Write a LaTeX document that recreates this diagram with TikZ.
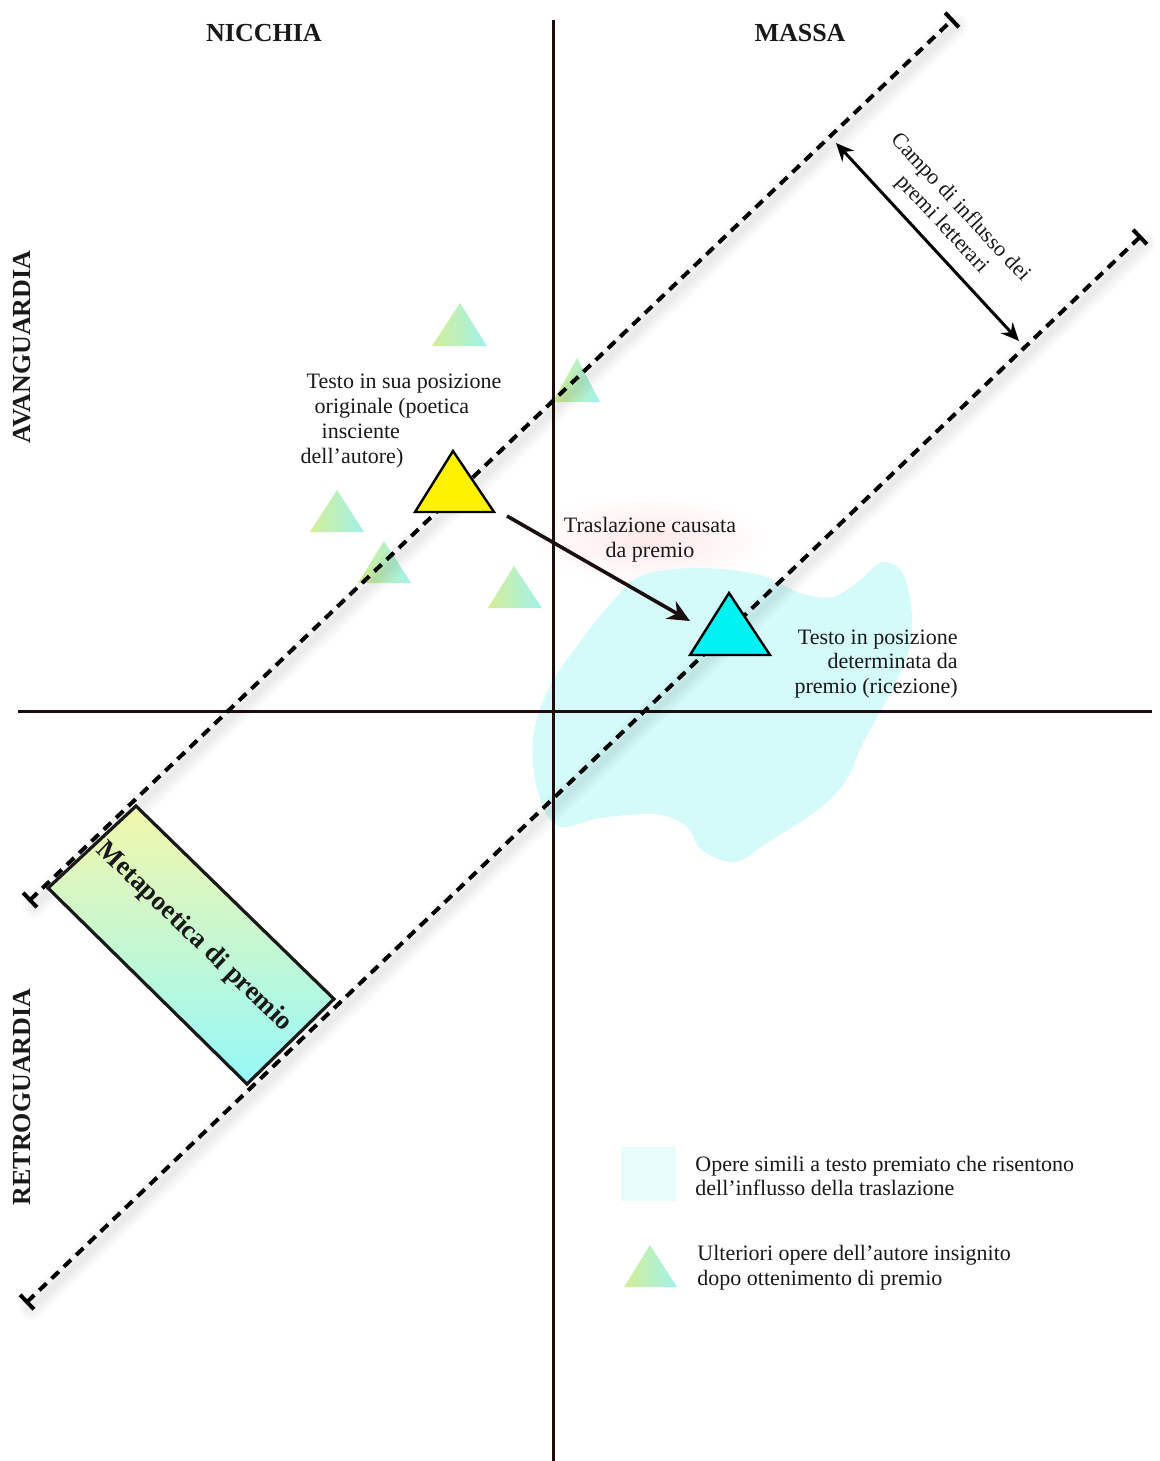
\documentclass[tikz,border=0pt]{standalone}
\usepackage{fontspec}
\setmainfont{Liberation Serif}
\usetikzlibrary{arrows.meta,calc}
\definecolor{axisc}{RGB}{28,14,14}
\definecolor{tleft}{RGB}{212,238,150}
\definecolor{tright}{RGB}{160,242,236}
\definecolor{blobc}{RGB}{212,250,250}
\definecolor{legc}{RGB}{232,252,252}
\definecolor{rtop}{RGB}{243,247,172}
\definecolor{rbot}{RGB}{150,248,248}
\definecolor{cyantri}{RGB}{0,242,242}
\definecolor{yellowtri}{RGB}{255,242,0}
\begin{document}
\begin{tikzpicture}[x=0.5pt,y=-0.5pt,
  axis/.style={line width=1.5pt, draw=axisc},
  dashline/.style={line width=2pt, dash pattern=on 5pt off 3.5pt, draw=black},
  glowline/.style={draw=black, draw opacity=0.018, line cap=round},
  endbar/.style={line width=2pt, draw=black},
  fadetri/.style={left color=tleft, right color=tright, draw=none},
  maintri/.style={line width=1.2pt, draw=black, line join=miter},
  arr/.style={line width=1.8pt, draw=axisc, -{Stealth[length=11pt,width=10pt,inset=3.5pt]}},
  darr/.style={line width=1.5pt, draw=black, {Stealth[length=9pt,width=8pt,inset=3pt]}-{Stealth[length=9pt,width=8pt,inset=3pt]}},
  lbl/.style={inner sep=0pt, font=\fontsize{11}{12.4}\selectfont, text=black!90},
  head/.style={inner sep=0pt, font=\fontsize{13}{15}\selectfont\bfseries, text=black!90}
]
\useasboundingbox (0,0) rectangle (1160,1461);
\fill[white] (0,0) rectangle (1160,1461);

% pink glow behind translation label
\shade[inner color=red!9, outer color=white] (650,540) ellipse [x radius=120, y radius=45];

% blob of similar works
\fill[blobc] plot[smooth cycle, tension=0.6] coordinates {
  (643,575) (700,568) (760,575) (800,593) (833,597) (860,580) (883,562)
  (905,578) (912,635) (898,678) (880,712) (862,745) (845,782) (815,812)
  (768,842) (735,862) (702,850) (686,826) (655,814) (600,818) (558,826)
  (538,792) (533,740) (548,690) (580,642) (614,600)};

% faded triangles (further works)
\shade[fadetri] (432,346) -- (460,303) -- (487,346) -- cycle;
\shade[fadetri] (553,402) -- (577,358) -- (600,402) -- cycle;
\shade[fadetri] (310,532) -- (337,490) -- (364,532) -- cycle;
\shade[fadetri] (358,583) -- (384,541) -- (411,583) -- cycle;
\shade[fadetri] (488,608) -- (514,566) -- (542,608) -- cycle;

% axes
\coordinate (vtop) at (553,20);
\coordinate (vbot) at (553,1461);
\coordinate (hleft) at (18,711);
\coordinate (hright) at (1152,711);
\draw[axis] (vtop) -- (vbot);
\draw[axis] (hleft) -- (hright);

% dashed boundary lines of the field of influence
\coordinate (u1) at (30,900);
\coordinate (u2) at (952,20);
\coordinate (l1) at (27,1302);
\coordinate (l2) at (1140,237);
\foreach \w in {3pt,6pt,9pt,12pt}{
  \draw[glowline, line width=\w] ([shift={(4,6)}]u1) -- ([shift={(4,6)}]u2);
  \draw[glowline, line width=\w] ([shift={(4,6)}]l1) -- ([shift={(4,6)}]l2);
}
\draw[dashline] (u1) -- (u2);
\draw[dashline] (l1) -- (l2);
\draw[endbar] ($(u1)!5pt!90:(u2)$) -- ($(u1)!5pt!-90:(u2)$);
\draw[endbar] ($(u2)!5pt!90:(u1)$) -- ($(u2)!5pt!-90:(u1)$);
\draw[endbar] ($(l1)!5pt!90:(l2)$) -- ($(l1)!5pt!-90:(l2)$);
\draw[endbar] ($(l2)!5pt!90:(l1)$) -- ($(l2)!5pt!-90:(l1)$);

% metapoetica rectangle
\coordinate (r1) at (136,806);
\coordinate (r2) at (334,999);
\coordinate (r3) at (247,1084);
\coordinate (r4) at (48,888);
\shade[top color=rtop, bottom color=rbot] (r1) -- (r2) -- (r3) -- (r4) -- cycle;
\draw[line width=1.6pt, draw=black!90, line join=miter] (r1) -- (r2) -- (r3) -- (r4) -- cycle;
\node[head, font=\fontsize{13.5}{16}\selectfont\bfseries, rotate=-44] (meta) at (194,937) {Metapoetica di premio};

% main triangles
\filldraw[maintri, fill=yellowtri] (415,512) -- (453,451) -- (494,512) -- cycle;
\filldraw[maintri, fill=cyantri] (690,655) -- (729,593) -- (770,655) -- cycle;

% translation arrow
\coordinate (ts) at (507,516);
\coordinate (te) at (690,621);
\draw[arr] (ts) -- (te);

% field arrow
\coordinate (ca) at (836,143);
\coordinate (cb) at (1019,341);
\draw[darr] (ca) -- (cb);

% headings
\node[head] (nicchia) at (264,33) {NICCHIA};
\node[head] (massa) at (800,33) {MASSA};
\node[head, rotate=90] (avang) at (22,347) {AVANGUARDIA};
\node[head, rotate=90] (retro) at (22,1097) {RETROGUARDIA};

% labels
\node[lbl, align=left] (orig) at (401,421) {\hspace*{3pt}Testo in sua posizione\\\hspace*{7pt}originale (poetica\\\hspace*{10.5pt}insciente\\dell’autore)};
\node[lbl, align=center] (trasl) at (650,540) {Traslazione causata\\da premio};
\node[lbl, align=right, anchor=east] (ricez) at (958,664) {Testo in posizione\\determinata da\\premio (ricezione)};
\node[lbl, align=center, rotate=-47] (campo) at (951,216) {Campo di influsso dei\\premi letterari};

% legend
\fill[legc] (621,1147) rectangle (676,1201);
\node[lbl, align=left, anchor=west] (leg1) at (695,1176) {Opere simili a testo premiato che risentono\\dell’influsso della traslazione};
\shade[fadetri] (624,1287) -- (650,1245) -- (677,1287) -- cycle;
\node[lbl, align=left, anchor=west] (leg2) at (697,1268) {Ulteriori opere dell’autore insignito\\dopo ottenimento di premio};
\end{tikzpicture}
\end{document}
